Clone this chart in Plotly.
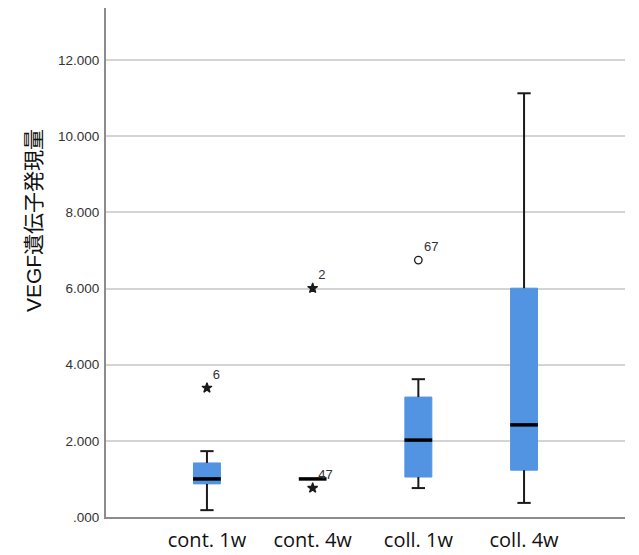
import plotly.graph_objects as go

categories = ["cont. 1w", "cont. 4w", "coll. 1w", "coll. 4w"]
q1 = [0.87, 1.00, 1.05, 1.23]
median = [1.00, 1.00, 2.02, 2.42]
q3 = [1.42, 1.00, 3.15, 6.01]
lower_fence = [0.18, 1.00, 0.76, 0.37]
upper_fence = [1.73, 1.00, 3.62, 11.13]

outlier_cat = ["cont. 1w", "cont. 4w", "cont. 4w", "coll. 1w"]
outlier_val = [3.39, 6.01, 0.76, 6.75]
outlier_label = ["6", "2", "47", "67"]
outlier_symbol = ["star", "star", "star", "circle-open"]

y_ticks = [0, 2, 4, 6, 8, 10, 12]
y_tick_text = [".000", "2.000", "4.000", "6.000", "8.000", "10.000", "12.000"]
y_title = "VEGF遺伝子発現量"

BLUE = "#5294E2"
INK = "#1a1a1a"

fig = go.Figure()

# boxes (no whiskers; those are drawn in black below)
fig.add_trace(go.Box(
    x=categories, q1=q1, median=median, q3=q3,
    lowerfence=q1, upperfence=q3,
    fillcolor=BLUE, line=dict(color=BLUE, width=1),
    whiskerwidth=0, width=0.255, boxpoints=False,
    hoverinfo="skip", showlegend=False,
))

# upper whiskers
fig.add_trace(go.Scatter(
    x=categories, y=q3, mode="markers",
    marker=dict(size=0.1, color="rgba(0,0,0,0)"),
    error_y=dict(type="data", symmetric=False,
                 array=[u - q for u, q in zip(upper_fence, q3)],
                 arrayminus=[0] * len(q3),
                 color=INK, thickness=2, width=0),
    hoverinfo="skip", showlegend=False,
))
# lower whiskers
fig.add_trace(go.Scatter(
    x=categories, y=q1, mode="markers",
    marker=dict(size=0.1, color="rgba(0,0,0,0)"),
    error_y=dict(type="data", symmetric=False,
                 array=[0] * len(q1),
                 arrayminus=[q - l for q, l in zip(q1, lower_fence)],
                 color=INK, thickness=2, width=0),
    hoverinfo="skip", showlegend=False,
))
# whisker caps
fig.add_trace(go.Scatter(
    x=categories + categories, y=lower_fence + upper_fence, mode="markers",
    marker=dict(symbol="line-ew", size=9.5, line=dict(color=INK, width=2)),
    hoverinfo="skip", showlegend=False,
))
# medians
fig.add_trace(go.Scatter(
    x=categories, y=median, mode="markers",
    marker=dict(symbol="line-ew", size=19.8, line=dict(color="#000000", width=3.5)),
    hoverinfo="skip", showlegend=False,
))
# outliers
fig.add_trace(go.Scatter(
    x=outlier_cat, y=outlier_val, mode="markers+text",
    text=outlier_label, textposition="top right",
    textfont=dict(family="Liberation Sans, Arial, sans-serif", size=13, color="#333333"),
    marker=dict(symbol=outlier_symbol, size=7.5, color=INK,
                line=dict(color=INK, width=1.3)),
    hoverinfo="skip", showlegend=False,
))

# page body adds an 8px offset, so the figure is sized 8px smaller
fig.update_layout(
    width=631, height=547,
    margin=dict(l=98, r=14, t=0, b=38, autoexpand=False),
    paper_bgcolor="white", plot_bgcolor="white",
    showlegend=False,
    xaxis=dict(
        type="category", categoryorder="array", categoryarray=categories,
        range=[-0.955, 3.955], automargin=False,
        showgrid=False, showline=True, linecolor="#8c8c8c", linewidth=2,
        ticks="", ticklabelstandoff=4,
        tickfont=dict(family="Open Sans, Lato, sans-serif", size=20, color="#111111"),
        zeroline=False,
    ),
    yaxis=dict(
        range=[0, 13.37], automargin=False,
        tickvals=y_ticks, ticktext=y_tick_text,
        showgrid=True, gridcolor="#d4d4d4", gridwidth=1.5,
        showline=True, linecolor="#8c8c8c", linewidth=2,
        ticks="", ticklabelstandoff=2,
        tickfont=dict(family="Liberation Sans, Arial, sans-serif", size=13.5, color="#333333"),
        zeroline=False,
    ),
    annotations=[dict(
        text=y_title, xref="paper", yref="paper", x=-0.141, y=0.583,
        xanchor="center", yanchor="middle", textangle=-90, showarrow=False,
        font=dict(family="Liberation Sans, Noto Sans CJK JP, sans-serif",
                  size=21, color="#111111"),
    )],
)

fig.write_html("out.html")
